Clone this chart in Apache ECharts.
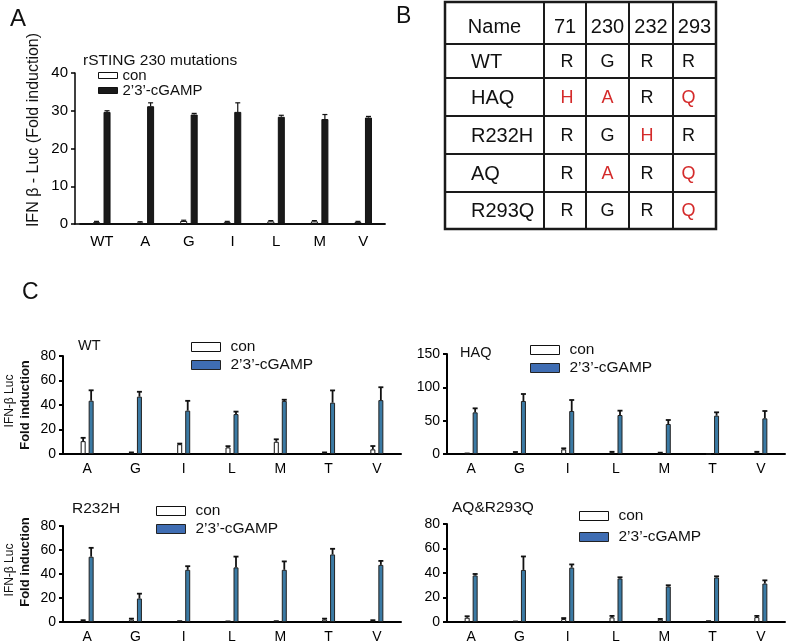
<!DOCTYPE html>
<html><head><meta charset="utf-8">
<script src="https://cdn.jsdelivr.net/npm/echarts@6/dist/echarts.min.js"></script>
<style>html,body{margin:0;padding:0;background:#fff}#c{width:787px;height:644px}</style>
</head><body><div id="c"></div>
<script>
// ---------- DATA ----------
const catsA = ['WT','A','G','I','L','M','V'];
const conA = [0.5,0.4,0.8,0.5,0.7,0.7,0.5];
const conAErr = [0.2,0.2,0.2,0.2,0.2,0.2,0.2];
const gampA = [29.7,31.2,29.0,29.7,28.4,27.8,28.2];
const gampAErr = [0.3,0.9,0.3,2.4,0.4,1.2,0.3];

const catsC = ['A','G','I','L','M','T','V'];
const conWT = [10.5,1,8,5.4,10,1,3.8];
const conWTErr = [2.7,0.3,0.5,1,2,0.3,2.7];
const gampWT = [43.5,46.8,35.4,32.6,43.3,41.9,44];
const gampWTErr = [8.5,4,8,2,1,10,10.5];

const conHAQ = [0.5,2,7,2.5,1.5,0,2.5];
const conHAQErr = [0.3,1,1.5,0.8,0.5,0,0.8];
const gampHAQ = [62.5,79.5,64.5,58.5,45,57.5,53.5];
const gampHAQErr = [6,10.5,16.5,6.5,6,5,11];

const conR232H = [1,2,0.5,0.3,0.5,2,1];
const conR232HErr = [0.5,0.8,0.2,0.2,0.2,0.8,0.5];
const gampR232H = [54.4,19.6,43.5,45.5,43.5,56.3,47.6];
const gampR232HErr = [7.4,4,3,9,7,4.7,3.3];

const conAQ = [3.5,0.3,2.5,3.8,2,0.5,4];
const conAQErr = [1.2,0.1,0.7,1.2,0.5,0.2,1];
const gampAQ = [38,42.5,44.4,35.5,29,36.3,31.4];
const gampAQErr = [1.2,11,2.6,1,1,1,2.6];

const tableHeader = ['Name','71','230','232','293'];
const tableRows = [
  ['WT','R','G','R','R'],
  ['HAQ','H','A','R','Q'],
  ['R232H','R','G','H','R'],
  ['AQ','R','A','R','Q'],
  ['R293Q','R','G','R','Q']
];

// ---------- STYLE / LAYOUT ----------
const FF = '"Liberation Sans", Arial, sans-serif';
const BLUE = '#3b7aa4';
const LEGBLUE = '#3f6db3';
const RED = '#d42a2a';

const chart = echarts.init(document.getElementById('c'));

function errSeries(name, xi, yi, vals, errs, offset, cap, lw) {
  return {
    type: 'custom', name: name + '_err', xAxisIndex: xi, yAxisIndex: yi, silent: true, z: 5,
    data: vals.map((v, i) => [i, v, errs[i]]),
    encode: {x: 0, y: 1},
    renderItem: function (params, api) {
      const i = api.value(0), v = api.value(1), e = api.value(2);
      const p0 = api.coord([i, v]);
      const p1 = api.coord([i, v + e]);
      const cx = p0[0] + offset;
      const st = {stroke: '#111', lineWidth: lw};
      return {type: 'group', children: [
        {type: 'line', shape: {x1: cx, y1: p0[1], x2: cx, y2: p1[1]}, style: st},
        {type: 'line', shape: {x1: cx - cap, y1: p1[1], x2: cx + cap, y2: p1[1]}, style: st}
      ]};
    }
  };
}

const grids = [
  {left: 80, right: 787 - 385, top: 73, bottom: 644 - 224},   // A
  {left: 63, right: 787 - 401, top: 356, bottom: 644 - 454},  // WT
  {left: 447, right: 2, top: 354, bottom: 644 - 454},         // HAQ
  {left: 63, right: 787 - 401, top: 526, bottom: 644 - 624},  // R232H
  {left: 447, right: 2, top: 524, bottom: 644 - 623},         // AQ
  {left: 75, right: 787 - 385, top: 73, bottom: 644 - 224}    // A x-axis line extension
];

function catAxis(gi, cats, fs, margin, lw) {
  return {type: 'category', gridIndex: gi, data: cats, boundaryGap: true,
    axisLine: {lineStyle: {color: '#000', width: lw}},
    axisTick: {alignWithLabel: true, length: 4, lineStyle: {color: '#000', width: lw}},
    axisLabel: {color: '#000', fontSize: fs, fontFamily: FF, margin: margin}};
}
function valAxis(gi, max, interval, fs, lw, offset) {
  return {type: 'value', gridIndex: gi, min: 0, max: max, interval: interval, offset: offset || 0,
    axisLine: {show: true, lineStyle: {color: '#000', width: lw}},
    axisTick: {show: true, length: 4, lineStyle: {color: '#000', width: lw}},
    axisLabel: {color: '#000', fontSize: fs, fontFamily: FF, margin: 7},
    splitLine: {show: false}};
}

const xAxes = [
  catAxis(0, catsA, 15, 10, 1.5),
  catAxis(1, catsC, 14, 8, 2),
  catAxis(2, catsC, 14, 8, 2),
  catAxis(3, catsC, 14, 8, 2),
  catAxis(4, catsC, 14, 8, 2),
  {type: 'value', gridIndex: 5, min: 0, max: 1, axisLine: {show: true, lineStyle: {color: '#000', width: 1.5}},
   axisTick: {show: false}, axisLabel: {show: false}, splitLine: {show: false}}
];
const yAxes = [
  valAxis(0, 40, 10, 15, 1.5, 5),
  valAxis(1, 80, 20, 14, 2),
  valAxis(2, 150, 50, 14, 2),
  valAxis(3, 80, 20, 14, 2),
  valAxis(4, 80, 20, 14, 2),
  {type: 'value', gridIndex: 5, show: false, min: 0, max: 1}
];

const series = [];
// Panel A
const bwA = 7, gapA = 0.5, offA = (bwA + bwA * gapA) / 2;
series.push({type: 'bar', name: 'con', xAxisIndex: 0, yAxisIndex: 0, data: conA, barWidth: bwA, barGap: '50%',
  itemStyle: {color: '#fff', borderColor: '#111', borderWidth: 1}});
series.push({type: 'bar', name: "2’3’-cGAMP", xAxisIndex: 0, yAxisIndex: 0, data: gampA, barWidth: bwA, barGap: '50%',
  itemStyle: {color: '#1a1a1a', borderColor: '#111', borderWidth: 1}});
series.push(errSeries('conA', 0, 0, conA, conAErr, -offA, 2.5, 1.2));
series.push(errSeries('gampA', 0, 0, gampA, gampAErr, offA, 2.5, 1.2));

// Panel C
const panelsC = [
  [1, conWT, conWTErr, gampWT, gampWTErr],
  [2, conHAQ, conHAQErr, gampHAQ, gampHAQErr],
  [3, conR232H, conR232HErr, gampR232H, gampR232HErr],
  [4, conAQ, conAQErr, gampAQ, gampAQErr]
];
const bwC = 5, gapC = 0.6, offC = (bwC + bwC * gapC) / 2;
panelsC.forEach(p => {
  const gi = p[0];
  series.push({type: 'bar', name: 'con', xAxisIndex: gi, yAxisIndex: gi, data: p[1], barWidth: bwC, barGap: '60%',
    itemStyle: {color: '#fff', borderColor: '#111', borderWidth: 1}});
  series.push({type: 'bar', name: "2’3’-cGAMP", xAxisIndex: gi, yAxisIndex: gi, data: p[3], barWidth: bwC, barGap: '60%',
    itemStyle: {color: BLUE, borderColor: '#222', borderWidth: 1}});
  series.push(errSeries('con' + gi, gi, gi, p[1], p[2], -offC, 2.5, 1.8));
  series.push(errSeries('gamp' + gi, gi, gi, p[3], p[4], offC, 2.5, 1.8));
});

function legendC(left, top, gap) {
  return {left: left, top: top, padding: 0, orient: 'vertical', itemWidth: 29, itemHeight: 9, itemGap: gap,
    icon: 'rect', selectedMode: false,
    textStyle: {fontSize: 15.5, fontFamily: FF, color: '#111', lineHeight: 16, padding: [0, 0, 0, 5]},
    data: [
      {name: 'con', itemStyle: {color: '#fff', borderColor: '#111', borderWidth: 1}},
      {name: "2’3’-cGAMP", itemStyle: {color: LEGBLUE, borderColor: '#222', borderWidth: 1}}
    ]};
}
const legends = [
  {left: 98, top: 68, padding: 0, orient: 'vertical', itemWidth: 19, itemHeight: 6, itemGap: 0, icon: 'rect', selectedMode: false,
   textStyle: {fontSize: 15, fontFamily: FF, color: '#111', lineHeight: 13},
   data: [
     {name: 'con', itemStyle: {color: '#fff', borderColor: '#111', borderWidth: 1}},
     {name: "2’3’-cGAMP", itemStyle: {color: '#1a1a1a', borderColor: '#111', borderWidth: 1}}
   ]},
  legendC(191, 339, 2),
  legendC(530, 342, 2),
  legendC(156, 503, 2),
  legendC(579, 508, 5)
];

function t(text, left, top, fs) {
  return {text: text, left: left, top: top, padding: 0,
    textStyle: {fontSize: fs, fontWeight: 'normal', fontFamily: FF, color: '#111'}};
}
const titles = [
  t('A', 10, 7, 24), t('B', 396, 5, 23), t('C', 22, 281, 23),
  t('rSTING 230 mutations', 83, 53, 15.5),
  t('WT', 78, 338, 14.5), t('HAQ', 460, 345, 14.5),
  t('R232H', 72, 501, 15.5), t('AQ&R293Q', 452, 500, 15.5)
];

// ---------- TABLE (graphic) ----------
const colEdges = [445, 544, 586, 629, 673, 716];
const rowEdges = [2, 44, 78, 116, 154, 192, 229];
const colShift = [0, 2, 0, -4, -6];
const graphics = [];
graphics.push({type: 'rect', shape: {x: colEdges[0], y: rowEdges[0], width: colEdges[5] - colEdges[0], height: rowEdges[6] - rowEdges[0]},
  style: {fill: 'none', stroke: '#1a1a1a', lineWidth: 2.5}});
for (let i = 1; i < colEdges.length - 1; i++) {
  graphics.push({type: 'line', shape: {x1: colEdges[i], y1: rowEdges[0], x2: colEdges[i], y2: rowEdges[6]}, style: {stroke: '#1a1a1a', lineWidth: 2}});
}
for (let j = 1; j < rowEdges.length - 1; j++) {
  graphics.push({type: 'line', shape: {x1: colEdges[0], y1: rowEdges[j], x2: colEdges[5], y2: rowEdges[j]}, style: {stroke: '#1a1a1a', lineWidth: 2}});
}
const allRows = [tableHeader].concat(tableRows);
const wtRow = tableRows[0];
allRows.forEach((row, r) => {
  const cy = (rowEdges[r] + rowEdges[r + 1]) / 2 + (r === 0 ? 4 : 1);
  row.forEach((cell, c) => {
    let x, align, fs;
    if (c === 0 && r > 0) { x = colEdges[0] + 26; align = 'left'; fs = 20; }
    else if (r === 0) { x = (colEdges[c] + colEdges[c + 1]) / 2; align = 'center'; fs = 20; }
    else { x = (colEdges[c] + colEdges[c + 1]) / 2 + colShift[c]; align = 'center'; fs = 18; }
    const red = r > 0 && c > 0 && cell !== wtRow[c];
    graphics.push({type: 'text', x: x, y: cy,
      style: {text: cell, fill: red ? RED : '#111', fontSize: fs, fontFamily: FF, align: align, verticalAlign: 'middle'}});
  });
});

// axis titles (rotated text)
function vtext(text, x, y, fs, fw) {
  return {type: 'text', x: x, y: y, rotation: Math.PI / 2,
    style: {text: text, fill: '#111', fontSize: fs, fontWeight: fw || 'normal', fontFamily: FF, align: 'center', verticalAlign: 'middle'}};
}
graphics.push(vtext('IFN β - Luc (Fold induction)', 34, 130, 16));
graphics.push(vtext('IFN-β Luc', 10, 401, 12));
graphics.push(vtext('Fold induction', 25, 405, 13, 'bold'));
graphics.push(vtext('IFN-β Luc', 10, 570, 12));
graphics.push(vtext('Fold induction', 25, 562, 13, 'bold'));

chart.setOption({
  animation: false,
  backgroundColor: '#fff',
  title: titles,
  legend: legends,
  grid: grids,
  xAxis: xAxes,
  yAxis: yAxes,
  series: series,
  graphic: graphics
});
</script></body></html>
